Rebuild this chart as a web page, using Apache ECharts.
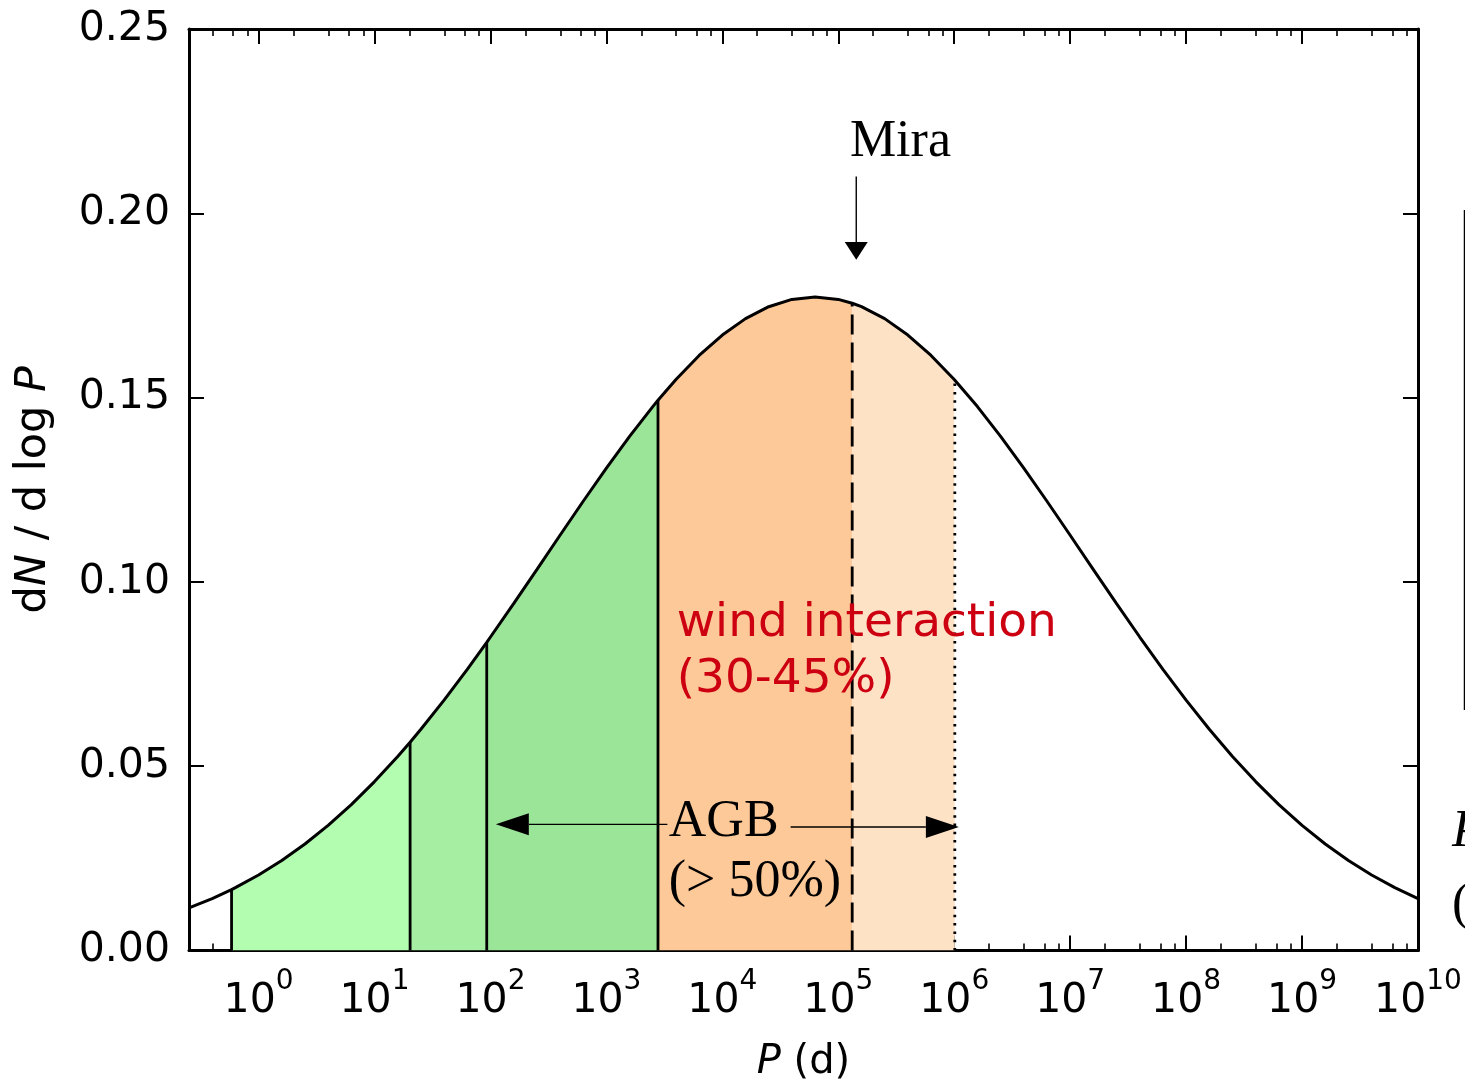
<!DOCTYPE html>
<html>
<head>
<meta charset="utf-8">
<script src="https://cdn.jsdelivr.net/npm/echarts@6/dist/echarts.min.js"></script>
<style>
  html, body { margin: 0; padding: 0; background: #ffffff; }
  #chart { width: 1465px; height: 1083px; }
</style>
</head>
<body>
<div id="chart"></div>
<script>
// Orbital period distribution of binaries: dN / d log P against log10 P (days)
const logP = [
  -0.6, -0.4, -0.2, 0.0, 0.2, 0.4, 0.6, 0.8, 1.0, 1.2, 1.4, 1.6, 1.8, 2.0,
  2.2, 2.4, 2.6, 2.8, 3.0, 3.2, 3.4, 3.6, 3.8, 4.0, 4.2, 4.4, 4.6, 4.8,
  5.0, 5.2, 5.4, 5.6, 5.8, 6.0, 6.2, 6.4, 6.6, 6.8, 7.0, 7.2, 7.4, 7.6,
  7.8, 8.0, 8.2, 8.4, 8.6, 8.8, 9.0, 9.2, 9.4, 9.6, 9.8, 10.0
];
const dNdlogP = [
  0.01154, 0.01407, 0.01704, 0.02047, 0.02441, 0.02890, 0.03395, 0.03959,
  0.04582, 0.05264, 0.06002, 0.06792, 0.07629, 0.08505, 0.09412, 0.10335,
  0.11265, 0.12188, 0.13088, 0.13949, 0.14756, 0.15492, 0.16144, 0.16698,
  0.17142, 0.17466, 0.17664, 0.17730, 0.17664, 0.17466, 0.17142, 0.16698,
  0.16144, 0.15492, 0.14756, 0.13949, 0.13088, 0.12188, 0.11265, 0.10335,
  0.09412, 0.08505, 0.07629, 0.06792, 0.06002, 0.05264, 0.04582, 0.03959,
  0.03395, 0.02890, 0.02441, 0.02047, 0.01704, 0.01407
];

// Region boundaries (log10 P) and the curve height at each of them
const edges = [-0.233, 1.307, 1.968, 3.445, 5.12, 6.005];
const edgeHeights = [0.0165, 0.0565, 0.0836, 0.1493, 0.1756, 0.1548];

// Axis ticks: decades, and the 2,4,6,8 sub-ticks inside each decade
const decadeTicks = [0, 1, 2, 3, 4, 5, 6, 7, 8, 9, 10];
const subTickMultipliers = [2, 4, 6, 8];

// Styling
const REGION_COLORS = ['#b3fdb0', '#a5eea2', '#9be598', '#fdc998', '#fee2c6'];
const EDGE_DASH = [null, null, null, null, [20, 8], [2.5, 5.8]];
const X_MIN = -0.6, X_MAX = 10;

const minorTicks = [];
for (let d = -1; d < 10; d++) {
  subTickMultipliers.forEach(m => {
    const v = d + Math.log10(m);
    if (v > X_MIN && v < X_MAX) minorTicks.push(v);
  });
}

// Curve points, boundaries included so the separators meet the line
const curve = logP.map((x, i) => [x, dNdlogP[i]])
  .concat(edges.map((x, i) => [x, edgeHeights[i]]))
  .sort((a, b) => a[0] - b[0]);

function segment(k) {
  const a = edges[k], b = edges[k + 1];
  const pts = [[a, edgeHeights[k]]];
  logP.forEach((x, i) => { if (x > a && x < b) pts.push([x, dNdlogP[i]]); });
  pts.push([b, edgeHeights[k + 1]]);
  return pts;
}

const chart = echarts.init(document.getElementById('chart'), null, { renderer: 'canvas' });

const SANS = 'DejaVu Sans';
const SERIF = 'Liberation Serif';

const baseXAxis = {
  type: 'value', min: X_MIN, max: X_MAX,
  splitLine: { show: false },
  axisLine: { show: true, onZero: false, lineStyle: { color: '#000', width: 3 } },
  axisLabel: { show: false }
};

function majorAxis(position, withLabels) {
  return Object.assign({}, baseXAxis, {
    position,
    axisTick: { show: true, inside: true, length: 15, customValues: decadeTicks,
                lineStyle: { color: '#000', width: 2 } },
    axisLabel: withLabels ? {
      show: true, customValues: decadeTicks, margin: 17,
      formatter: v => '{b|10}{s|' + Math.round(v) + '}',
      rich: {
        b: { fontFamily: SANS, fontSize: 41, color: '#000', padding: [13, 0, 0, 0], verticalAlign: 'bottom' },
        s: { fontFamily: SANS, fontSize: 28, color: '#000', lineHeight: 28, verticalAlign: 'top' }
      }
    } : { show: false }
  });
}
function minorAxis(position) {
  return Object.assign({}, baseXAxis, {
    position,
    axisLine: { show: false, onZero: false },
    axisTick: { show: true, inside: true, length: 7, customValues: minorTicks,
                lineStyle: { color: '#000', width: 1.6 } }
  });
}

const xAxes = [majorAxis('bottom', true), minorAxis('bottom'), majorAxis('top', false), minorAxis('top')];
xAxes[0].name = '{i|P}{r| (d)}';
xAxes[0].nameLocation = 'middle';
xAxes[0].nameGap = 92;
xAxes[0].nameTextStyle = {
  rich: {
    i: { fontFamily: SANS, fontSize: 40, fontStyle: 'italic', color: '#000', lineHeight: 40 },
    r: { fontFamily: SANS, fontSize: 40, color: '#000', lineHeight: 40 }
  }
};

const baseYAxis = {
  type: 'value', min: 0, max: 0.25, interval: 0.05,
  splitLine: { show: false },
  axisLine: { show: true, onZero: false, lineStyle: { color: '#000', width: 3 } },
  axisTick: { show: true, inside: true, length: 15, lineStyle: { color: '#000', width: 2 } }
};
const yAxes = [
  Object.assign({}, baseYAxis, {
    position: 'left',
    axisLabel: { show: true, margin: 19, fontFamily: SANS, fontSize: 41, color: '#000',
                 formatter: v => v.toFixed(2) },
    name: '{r|d}{i|N}{r| / d log }{i|P}',
    nameLocation: 'middle',
    nameGap: 134,
    nameTextStyle: {
      rich: {
        i: { fontFamily: SANS, fontSize: 43, fontStyle: 'italic', color: '#000', lineHeight: 43 },
        r: { fontFamily: SANS, fontSize: 43, color: '#000', lineHeight: 43 }
      }
    }
  }),
  Object.assign({}, baseYAxis, { position: 'right', axisLabel: { show: false } })
];

const fillSeries = REGION_COLORS.map((c, k) => ({
  type: 'line', xAxisIndex: 0, yAxisIndex: 0, z: 1,
  data: segment(k), showSymbol: false, silent: true,
  lineStyle: { width: 0 },
  areaStyle: { color: c, opacity: 1 }
}));

const option = {
  animation: false,
  backgroundColor: '#ffffff',
  grid: { left: 189, right: 47, top: 29, bottom: 132.5, containLabel: false, outerBoundsMode: 'none' },
  xAxis: xAxes,
  yAxis: yAxes,
  series: fillSeries.concat([
    {
      type: 'custom', xAxisIndex: 0, yAxisIndex: 0, z: 2, silent: true,
      data: edges.map((x, i) => [x, edgeHeights[i]]),
      renderItem(params, api) {
        const p0 = api.coord([api.value(0), 0]);
        const p1 = api.coord([api.value(0), api.value(1)]);
        return {
          type: 'line',
          shape: { x1: p0[0], y1: p0[1], x2: p1[0], y2: p1[1] },
          style: { stroke: '#000', lineWidth: 2.8, lineDash: EDGE_DASH[params.dataIndex] }
        };
      }
    },
    {
      type: 'line', xAxisIndex: 0, yAxisIndex: 0, z: 3, silent: true,
      data: curve, showSymbol: false,
      lineStyle: { color: '#000', width: 3 }
    }
  ])
};

chart.setOption(option);

// Annotations, anchored in data coordinates
const px = (x, y) => chart.convertToPixel({ xAxisIndex: 0, yAxisIndex: 0 }, [x, y]);

function arrow(from, to, headLen, headW) {
  const a = px(from[0], from[1]), b = px(to[0], to[1]);
  const dx = b[0] - a[0], dy = b[1] - a[1], L = Math.hypot(dx, dy);
  const ux = dx / L, uy = dy / L;
  const bx = b[0] - ux * headLen, by = b[1] - uy * headLen;
  const nx = -uy * headW / 2, ny = ux * headW / 2;
  return [
    { type: 'line', z: 10, shape: { x1: a[0], y1: a[1], x2: bx, y2: by },
      style: { stroke: '#000', lineWidth: 1.4 } },
    { type: 'polygon', z: 10, shape: { points: [[b[0], b[1]], [bx + nx, by + ny], [bx - nx, by - ny]] },
      style: { fill: '#000' } }
  ];
}

function label(x, y, text, font) {
  const p = px(x, y);
  return {
    type: 'text', z: 11, x: p[0], y: p[1],
    style: Object.assign({ text, align: 'left', verticalAlign: 'middle' }, font)
  };
}

const serifFont = { fontFamily: SERIF, fontSize: 52, fill: '#000', lineHeight: 60 };
const redFont = { fontFamily: SANS, fontSize: 47, fill: '#cc0011', lineHeight: 56 };

const elements = []
  .concat(arrow([5.155, 0.2100], [5.155, 0.18742], 17.6, 23))
  .concat(arrow([3.526, 0.03422], [2.046, 0.03422], 33, 22))
  .concat(arrow([4.589, 0.03349], [6.040, 0.03349], 33, 22))
  .concat([
    label(5.1, 0.2192, 'Mira', serifFont),
    label(3.538, 0.0266, 'AGB\n(> 50%)', serifFont),
    label(3.606, 0.0811, 'wind interaction\n(30-45%)', redFont),
    // edge of the neighbouring panel
    { type: 'line', z: 10, shape: { x1: 1464.5, y1: 210, x2: 1464.5, y2: 710 },
      style: { stroke: '#000', lineWidth: 1.5 } },
    { type: 'text', z: 11, x: 1452, y: 858,
      style: { text: 'P', fontFamily: SERIF, fontStyle: 'italic', fontSize: 52, fill: '#000',
               align: 'left', verticalAlign: 'bottom', lineHeight: 52 } },
    { type: 'text', z: 11, x: 1452, y: 905,
      style: { text: '(', fontFamily: SERIF, fontSize: 52, fill: '#000',
               align: 'left', verticalAlign: 'middle', lineHeight: 52 } }
  ]);

chart.setOption({ graphic: { elements } });
</script>
</body>
</html>
